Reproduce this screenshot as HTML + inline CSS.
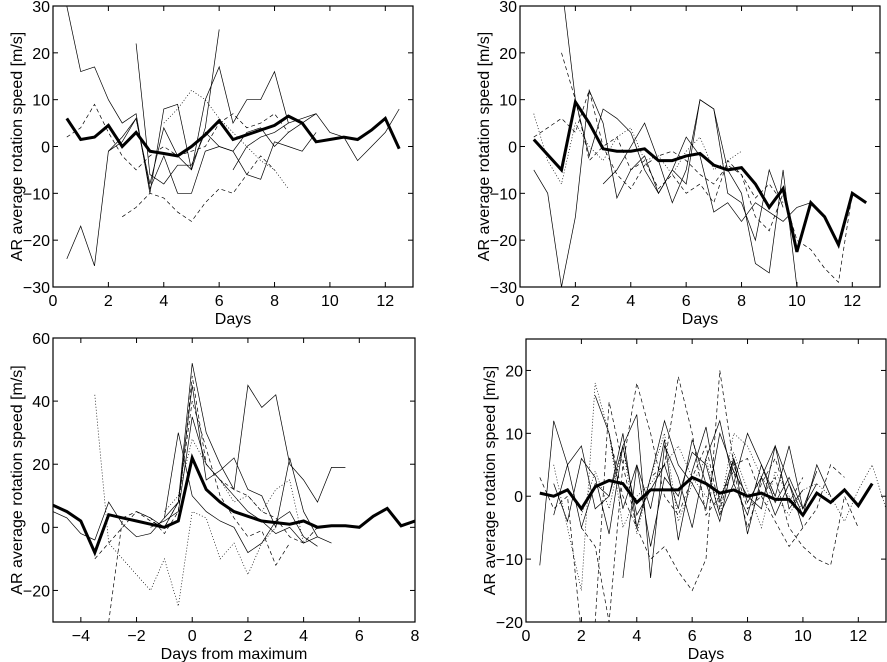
<!DOCTYPE html>
<html><head><meta charset="utf-8"><style>
html,body{margin:0;padding:0;background:#fff;}
svg{display:block;font-family:"Liberation Sans",Helvetica,Arial,sans-serif;}
</style></head><body>
<svg id="fig" width="887" height="662" viewBox="0 0 887 662" xmlns="http://www.w3.org/2000/svg"></svg>
<script>
// ---- data ----
const meanX1 = [0.5,1,1.5,2,2.5,3,3.5,4,4.5,5,5.5,6,6.5,7,7.5,8,8.5,9,9.5,10,10.5,11,11.5,12,12.5];
const meanY1 = [6,1.5,2,4.5,0,3,-1,-1.5,-2,0,2.5,5.5,1.5,2.5,3.5,4.5,6.5,5,1,1.5,2,1.5,3.5,6,-0.5];
const meanY2 = [1.5,-5,9.5,5,-0.5,-1,-1,-0.5,-3,-3,-2,-1.5,-4,-5,-4.5,-8,-13,-9,-22.5,-12,-15,-21,-10,-12,-12];
const meanX2 = [0.5,1.5,2,2.5,3,3.5,4,4.5,5,5.5,6,6.5,7,7.5,8,8.5,9,9.5,10,10.5,11,11.5,12,12.5,12.5];
const meanX3 = [-5,-4.5,-4,-3.5,-3,-2.5,-2,-1.5,-1,-0.5,0,0.5,1,1.5,2,2.5,3,3.5,4,4.5,5,5.5,6,6.5,7,7.5,8];
const meanY3 = [7,5,2,-8,4,3,2,1,0,2,22,12,8,5,3.5,2,1.5,1,2,0,0.5,0.5,0,3.5,6,0.5,2];
const meanY4 = [0.5,0,1,-2,1.5,2.5,2,-1,1,1,1,3,2,0.5,1,0,0.5,-0.5,-0.5,-3,0.5,-1,1,-1.5,2];

const thin1 = [
 [0.5,'s',[-24,-17,-25.5,-1,2,6,-8,4,-2,-5,4,25]],
 [0.5,'s',[30,16,17,10,5,7,-10,8,9,-5,10,17,5,10,10,16,5]],
 [2.5,'d',[-15,-13,-10,-11,-14,-16,-12,-9,-10,-6,-2,-5]],
 [4,'o',[5,8,12,10,6,3,0,-3,-5,-9]],
 [3,'s',[22,-6,-8,-4,-4,3,0,-1,-6,-7,1,0,-1,3]],
 [6.5,'s',[-5,0,2,3,5,6,7,3,2,-3,0,3,8]],
 [0.5,'d',[2,4,9,3,-2,-5,-2,0,-2,-1,0,5,7,4,5,7,3]],
 [2,'s',[-1,1,6,-9,-2,-10,-10,-1,0,-1,3,4,0,3,5,7]]
];
const thin2 = [
 [0.5,'s',[-5,-10,-30,-15,12,5,-11,-5,-2,-10,-5,-8,10,8,-5,-10,-25,-27,-5,-30]],
 [1.5,'d',[20,10,-3,0,2,-5,-3,-9,-6,-10,-8,-12,-3,-6,-15,-18,-10,-20,-22,-26,-29,-10]],
 [1.5,'s',[35,10,-2,8,6,3,-5,-10,-5,2,-2,-14,-12,-16,-12,-14,-16,-13,-12]],
 [0.5,'o',[7,-3,-8,5,0,-3,2,4,-3,-2,-6,-1,2,-5,-3,-1]],
 [3,'s',[-8,-5,0,5,-3,-12,-5,10,8,-10,-12,-20,-5,-13]],
 [0.5,'d',[2,4,6,3,12,0,-6,-9,-4,-2,-1,-3,-6,-8,-4,-6,-11,-8,-12]]
];
const thin3 = [
 [-1,'s',[3,8,52,30,20,12,45,38,42,20,15,8,19,19]],
 [-3.5,'d',[-10,-5,0,5,3,-2,5,48,20,15,12,10,5,3,-3,-5,0]],
 [-3.5,'o',[42,-5,-10,-15,-20,-10,-25,5,3,-10,-5,-15,-5,0]],
 [-3,'d',[-30,3,5,2,0,8,40,25,10,3,-3,-1,-12,-5]],
 [-2,'s',[5,3,0,8,45,15,18,22,12,10,0,22,5,-3,-5]],
 [-5,'s',[5,3,-2,-4,8,1,-3,-2,3,30,10,5,2,0,-8,-5,2,5,-3,-6]],
 [-1,'o',[5,10,28,20,15,8,10,5,12,15,-5,0]],
 [-1.5,'s',[0,2,5,35,20,15,10,5,2,-2,0,-5,-3]]
];
const thin4 = [
 [0.5,'s',[-11,12,5,-5,2,0,8,13,-13,8,3,-5,6,12,2,-3,5,0,8,-2,4]],
 [0.5,'d',[3,-2,0,-22,-20,15,5,-5,-10,-8,-12,-15,-10,20,5,-2,0,3,-5,-8,-10,-11,0,-5]],
 [1,'o',[5,-5,-15,18,10,-5,0,2,5,8,3,0,-2,10,8,3,0,-3,1,2,0,-4,1,5,-2,8]],
 [1,'s',[-3,5,8,-2,0,10,-5,3,12,5,2,-2,10,4,0,-2,8,2,-3,5,0]],
 [2,'d',[-5,-8,-20,5,18,10,0,-3,3,8,-2,5,6,0,-4,-8,-5,-2,5,3]],
 [2.5,'s',[16,10,-2,5,-8,3,0,7,5,-3,2,10,5,-1,3,-2,2]],
 [3,'d',[10,0,-5,3,5,19,10,-3,0,4,-5,2,6,-1,3]],
 [1,'s',[2,-4,6,3,-6,8,-3,1,5,-2,9,2,-4,6,-1,3,-3,2,-5]],
 [2,'o',[-3,4,-2,8,-6,3,10,-4,2,6,-3,7,1,-5,4,0,-2]],
 [3.5,'s',[-13,5,-2,9,-7,4,11,-1,6,-6,3,8,-2,1]]
];
const xt1 = [0,2,4,6,8,10,12], yt1 = [-30,-20,-10,0,10,20,30];
const xt3 = [-4,-2,0,2,4,6,8], yt3 = [-20,0,20,40,60];
const yt4 = [-20,-10,0,10,20];

const svg = document.getElementById('fig');
const NS = 'http://www.w3.org/2000/svg';
function mk(tag, attrs, parent){const e=document.createElementNS(NS,tag);for(const k in attrs)e.setAttribute(k,attrs[k]);parent.appendChild(e);return e;}

function panel(id, L,R,T,B, xlim, ylim, xt, yt, xlabel, ylx, meanX, meanY, thin){
  const g = mk('g',{},svg);
  
  
  const sx = v => L + (v-xlim[0])/(xlim[1]-xlim[0])*(R-L);
  const sy = v => B - (v-ylim[0])/(ylim[1]-ylim[0])*(B-T);
  const cp = mk('clipPath',{id:'c'+id},g);
  mk('rect',{x:L,y:T,width:R-L,height:B-T},cp);
  const plot = mk('g',{'clip-path':'url(#c'+id+')'},g);
  thin.forEach((s,i)=>{
    const pts = s[2].map((v,j)=>sx(s[0]+0.5*j).toFixed(1)+','+sy(v).toFixed(1)).join(' ');
    const dash = s[1]==='d' ? '4,3' : (s[1]==='o' ? '1,2' : 'none');
    const p = mk('polyline',{points:pts,fill:'none',stroke:'#000','stroke-width':0.7,'stroke-dasharray':dash},plot);
    
    
  });
  const mp = meanY.map((v,j)=>sx(meanX[j]).toFixed(1)+','+sy(v).toFixed(1)).join(' ');
  const m = mk('polyline',{points:mp,fill:'none',stroke:'#000','stroke-width':3,'stroke-linejoin':'miter'},plot);
  
  
  const box = mk('rect',{x:L,y:T,width:R-L,height:B-T,fill:'none',stroke:'#000','stroke-width':1.2},g);
  
  
  xt.forEach(v=>{
    const x=sx(v);
    mk('line',{x1:x,x2:x,y1:B,y2:B-5,stroke:'#000'},g);
    mk('line',{x1:x,x2:x,y1:T,y2:T+5,stroke:'#000'},g);
    const t=mk('text',{x:x,y:B+19,'text-anchor':'middle','font-size':16},g);
    t.textContent = String(v).replace('-','\u2212');
    
    
  });
  yt.forEach(v=>{
    const y=sy(v);
    mk('line',{x1:L,x2:L+5,y1:y,y2:y,stroke:'#000'},g);
    mk('line',{x1:R,x2:R-5,y1:y,y2:y,stroke:'#000'},g);
    const t=mk('text',{x:L-3,y:y+6,'text-anchor':'end','font-size':16},g);
    t.textContent = String(v).replace('-','\u2212');
    
    
  });
  const xl = mk('text',{x:(L+R)/2,y:B+37,'text-anchor':'middle','font-size':16},g);
  xl.textContent = xlabel;
  
  
  const yl = mk('text',{x:0,y:0,'text-anchor':'middle','font-size':16,transform:'translate('+ylx+','+((T+B)/2)+') rotate(-90)'},g);
  yl.textContent = 'AR average rotation speed [m/s]';
  
  
}
panel('panel-top-left',53,413,6,287,[0,13],[-30,30],xt1,yt1,'Days',22,meanX1,meanY1,thin1);
panel('panel-top-right',520,880,6,287,[0,13],[-30,30],xt1,yt1,'Days',489,meanX2,meanY2,thin2);
panel('panel-bottom-left',53,415,338,622,[-5,8],[-30,60],xt3,yt3,'Days from maximum',22,meanX3,meanY3,thin3);
panel('panel-bottom-right',526,886,339,622,[0,13],[-20,25],xt1,yt4,'Days',495,meanX1,meanY4,thin4);
</script>
</body></html>
